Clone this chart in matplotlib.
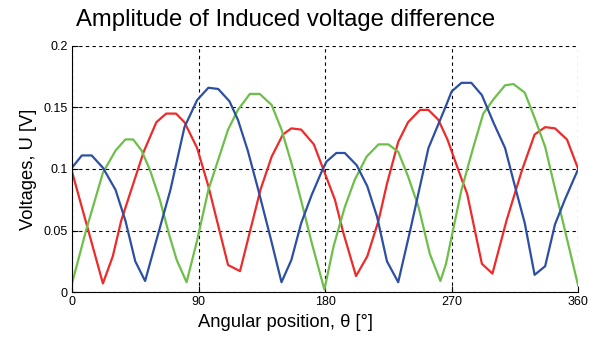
import matplotlib
matplotlib.use("Agg")
import matplotlib.pyplot as plt

# angular positions (deg) and voltages (V)
theta_red = [0, 7, 22, 29, 35, 51, 60, 67, 74, 80, 89, 97, 111, 119.5, 134, 142,
             150, 156, 163, 172, 178, 187, 193, 202, 210, 218, 224, 232, 239,
             247.5, 253.5, 260.5, 267, 277, 281, 291.5, 299, 309, 320, 329,
             336.5, 343.5, 352, 360]
u_red = [0.098, 0.069, 0.007, 0.029, 0.058, 0.114, 0.138, 0.145, 0.145, 0.138,
         0.117, 0.086, 0.022, 0.017, 0.083, 0.110, 0.128, 0.133, 0.132, 0.120,
         0.102, 0.075, 0.048, 0.013, 0.029, 0.058, 0.088, 0.122, 0.138, 0.148,
         0.148, 0.140, 0.124, 0.092, 0.080, 0.023, 0.015, 0.058, 0.099, 0.128,
         0.134, 0.133, 0.124, 0.100]

theta_blue = [0, 7, 14, 22, 31, 38, 45, 52, 60, 70, 80, 89, 97, 104, 112, 118,
              125, 132.5, 141, 149, 156, 163, 170.5, 178, 181, 188, 194, 202.5,
              210, 217, 224, 232, 240.5, 253.5, 265.5, 270, 277, 284, 291.5,
              300, 308, 315, 322, 329, 336.5, 343.5, 350.5, 360]
u_blue = [0.101, 0.111, 0.111, 0.101, 0.083, 0.058, 0.025, 0.009, 0.042, 0.083,
          0.134, 0.156, 0.166, 0.165, 0.155, 0.140, 0.115, 0.083, 0.045, 0.008,
          0.026, 0.056, 0.079, 0.099, 0.106, 0.113, 0.113, 0.103, 0.086, 0.061,
          0.025, 0.008, 0.050, 0.117, 0.150, 0.163, 0.170, 0.170, 0.160, 0.137,
          0.117, 0.086, 0.056, 0.014, 0.021, 0.055, 0.075, 0.100]

theta_green = [0, 10, 22, 31, 38, 43.5, 49.5, 55.5, 62.5, 69.5, 74.5, 81.5, 89,
               97, 111, 118, 126.5, 133.5, 142, 149, 156, 163.5, 170.5, 179.5,
               186, 194, 201, 209.5, 218, 225, 232, 239, 246.5, 254.5, 262, 266,
               270, 277, 285.5, 292.5, 300, 308, 314, 322, 329.5, 336.5, 346, 360]
u_green = [0.007, 0.050, 0.097, 0.115, 0.124, 0.124, 0.115, 0.099, 0.075, 0.045,
           0.026, 0.008, 0.042, 0.083, 0.132, 0.148, 0.161, 0.161, 0.152, 0.132,
           0.105, 0.072, 0.040, 0.002, 0.037, 0.069, 0.091, 0.110, 0.120, 0.120,
           0.114, 0.094, 0.069, 0.031, 0.009, 0.023, 0.045, 0.083, 0.118, 0.145,
           0.157, 0.168, 0.169, 0.162, 0.140, 0.118, 0.072, 0.005]

x_ticks = [0, 90, 180, 270, 360]
y_ticks = [0, 0.05, 0.1, 0.15, 0.2]
y_tick_labels = ["0", "0.05", "0.1", "0.15", "0.2"]

plt.rcParams['font.family'] = ['Liberation Sans', 'DejaVu Sans']

fig = plt.figure(figsize=(5.9, 3.4), dpi=100)
ax = fig.add_axes([0.122, 0.141, 0.858, 0.724])

ax.plot(theta_red, u_red, color='#ee2a2a', lw=1.6)
ax.plot(theta_green, u_green, color='#6dbf4a', lw=1.6)
ax.plot(theta_blue, u_blue, color='#2c4fa3', lw=1.6)

ax.set_xlim(0, 360)
ax.set_ylim(0, 0.2)
ax.set_xticks(x_ticks)
ax.set_yticks(y_ticks)
ax.set_yticklabels(y_tick_labels)
ax.tick_params(direction='in', labelsize=9, length=4, pad=3)

# MATLAB-like dotted grid, no box
ax.grid(True, color='black', linestyle=(0, (3, 3)), linewidth=0.8)
ax.spines['top'].set_visible(False)
ax.spines['right'].set_visible(False)

# title and x label sit left of the axes centre in the original
ax.set_title("Amplitude of Induced voltage difference", fontsize=17.2, pad=14, x=0.421)
ax.set_xlabel("Angular position, θ [°]", fontsize=13.2, labelpad=4, x=0.421)
ax.set_ylabel("Voltages, U [V]", fontsize=13.2, labelpad=5)

fig.savefig("out.png", dpi=100)
